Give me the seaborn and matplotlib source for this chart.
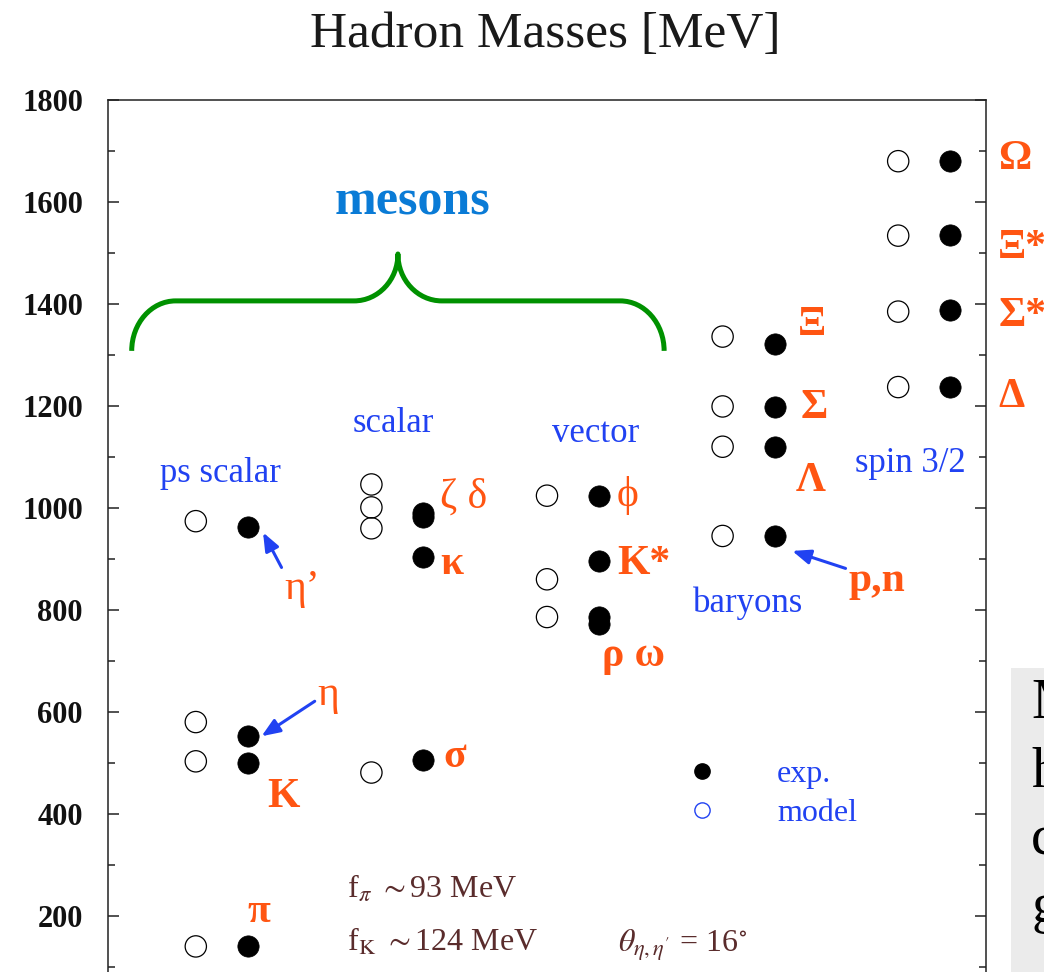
import numpy as np
import pandas as pd
import matplotlib
matplotlib.use("Agg")
import matplotlib.pyplot as plt
import matplotlib.transforms as mtransforms
from matplotlib.path import Path
from matplotlib.patches import PathPatch, Rectangle
from matplotlib.lines import Line2D
from matplotlib.ticker import MultipleLocator
import seaborn as sns

# ---------------------------------------------------------------- data
groups = ["ps scalar", "scalar", "vector", "baryons", "spin 3/2"]

# model masses [MeV] for each multiplet
model_ps = [974, 580, 503, 140]
model_scalar = [1046, 1001, 960, 481]
model_vector = [1024, 860, 786]
model_baryon = [945, 1120, 1199, 1336]
model_spin32 = [1237, 1385, 1534, 1680]

# experimental masses [MeV]
exp_names_ps = ["eta'", "eta", "K", "pi"]
exp_ps = [963, 553, 500, 140]
exp_names_scalar = ["zeta", "delta", "kappa", "sigma"]
exp_scalar = [990, 982, 903, 505]
exp_names_vector = ["phi", "K*", "rho", "omega"]
exp_vector = [1024, 895, 773, 787]
exp_names_baryon = ["p,n", "Lambda", "Sigma", "Xi"]
exp_baryon = [944, 1120, 1198, 1322]
exp_names_spin32 = ["Delta", "Sigma*", "Xi*", "Omega"]
exp_spin32 = [1237, 1389, 1536, 1680]

ytick_values = [200, 400, 600, 800, 1000, 1200, 1400, 1600, 1800]

model_sets = [model_ps, model_scalar, model_vector, model_baryon, model_spin32]
exp_sets = [exp_ps, exp_scalar, exp_vector, exp_baryon, exp_spin32]
exp_name_sets = [exp_names_ps, exp_names_scalar, exp_names_vector,
                 exp_names_baryon, exp_names_spin32]

EXP_SHIFT = 0.296  # horizontal offset of the experimental column in a group

rows = []
for g, (grp, mods, exps, names) in enumerate(zip(groups, model_sets, exp_sets, exp_name_sets)):
    for m in mods:
        rows.append(dict(group=grp, kind="model", name="", x=g, mass=m))
    for n, m in zip(names, exps):
        rows.append(dict(group=grp, kind="exp", name=n, x=g + EXP_SHIFT, mass=m))
df = pd.DataFrame(rows)

# ---------------------------------------------------------------- style
sns.set_theme(style="ticks")
plt.rcParams["font.family"] = ["Liberation Serif", "DejaVu Serif"]
plt.rcParams["mathtext.fontset"] = "stix"

ORANGE = "#ff5512"
BLUE = "#2142f2"
AZURE = "#0a7bd6"
GREEN = "#009100"
BROWN = "#5a2c2c"

W, H = 1044, 972
fig = plt.figure(figsize=(W / 100, H / 100), dpi=100)
ax = fig.add_axes([108 / W, 1 - 1017.8 / H, 878 / W, 917.8 / H])
ax.set_xlim(-0.5, 4.5)
ax.set_ylim(0, 1800)

# ---------------------------------------------------------------- points
sns.scatterplot(data=df[df.kind == "model"], x="x", y="mass", ax=ax,
                marker="o", s=235, facecolors="none", edgecolor="black",
                linewidth=0.9, legend=False, zorder=3)
sns.scatterplot(data=df[df.kind == "exp"], x="x", y="mass", ax=ax,
                marker="o", s=235, color="black", edgecolor="black",
                linewidth=0.5, legend=False, zorder=3)

# ---------------------------------------------------------------- axes
for side in ("left", "right", "top"):
    ax.spines[side].set_visible(True)
    ax.spines[side].set_linewidth(1.1)
    ax.spines[side].set_color("#222222")
ax.spines["bottom"].set_visible(False)
ax.set_xticks([])
ax.set_xlabel("")
ax.set_ylabel("")
ax.set_yticks(ytick_values)
ax.set_yticklabels([str(v) for v in ytick_values], fontsize=22,
                   fontweight="bold", color="#111111")
ax.yaxis.set_minor_locator(MultipleLocator(100))
ax.tick_params(axis="y", which="both", direction="in", left=True, right=True,
               labelleft=True, labelright=False, width=1.1, color="#222222")
ax.tick_params(axis="y", which="major", length=8, pad=18)
ax.tick_params(axis="y", which="minor", length=5)


def shifted(dx, dy):
    """Data coordinates shifted by (dx, dy) points."""
    return ax.transData + mtransforms.ScaledTranslation(dx / 72, dy / 72, fig.dpi_scale_trans)


def point(name):
    r = df[df.name == name].iloc[0]
    return r.x, r.mass


# ---------------------------------------------------------------- particle labels
labels = [
    ("eta'", "η’", (26.6, -52.1), "normal"),
    ("eta", "η", (50.4, 22.5), "normal"),
    ("K", "K", (13.7, -31.5), "bold"),
    ("pi", "π", (0.0, 17.6), "bold"),
    ("zeta", "ζ δ", (12.2, 4.2), "normal"),
    ("kappa", "κ", (12.2, -12.1), "bold"),
    ("sigma", "σ", (14.4, -4.5), "bold"),
    ("phi", "ϕ", (13.0, -7.5), "normal"),
    ("K*", "K*", (13.0, -9.2), "bold"),
    ("rho", "ρ ω", (2.2, -30.7), "bold"),
    ("p,n", "p,n", (53.3, -39.4), "bold"),
    ("Lambda", "Λ", (15.1, -31.9), "bold"),
    ("Sigma", "Σ", (18.7, -7.9), "bold"),
    ("Xi", "Ξ", (16.6, 6.5), "bold"),
    ("Omega", "Ω", (34.6, -5.3), "bold"),
    ("Xi*", "Ξ*", (34.6, -16.6), "bold"),
    ("Sigma*", "Σ*", (34.6, -11.7), "bold"),
    ("Delta", "Δ", (34.6, -14.3), "bold"),
]
for name, txt, (dx, dy), weight in labels:
    ax.annotate(txt, xy=point(name), xytext=(dx, dy), textcoords="offset points",
                ha="left", va="baseline", fontsize=30, fontweight=weight,
                color=ORANGE, annotation_clip=False, clip_on=False)

# arrows pointing at eta', eta and the nucleon
arrows = [
    ("eta'", (11.0, -4.1), (24.3, -29.3)),
    ("eta", (9.9, -0.3), (48.2, 24.9)),
    ("p,n", (12.7, -10.4), (51.1, -23.0)),
]
for name, head, tail in arrows:
    p = point(name)
    ax.annotate("", xy=p, xycoords=shifted(*head), xytext=p, textcoords=shifted(*tail),
                arrowprops=dict(arrowstyle="-|>,head_length=0.55,head_width=0.22",
                                color=BLUE, lw=2.2, shrinkA=0, shrinkB=0,
                                mutation_scale=20))

# ---------------------------------------------------------------- group labels
group_label_pos = [(0.142, 1050), (1.123, 1149), (2.279, 1129), (3.145, 795), (4.071, 1070)]
for grp, (gx, gy) in zip(groups, group_label_pos):
    ax.text(gx, gy, grp, ha="center", va="baseline", fontsize=25, color=BLUE)

ax.text(1.236, 1575, "mesons", ha="center", va="baseline", fontsize=36,
        fontweight="bold", color=AZURE)

# curly brace spanning the meson multiplets
xl, xr, xc = -0.365, 2.667, 1.151
y_end, y_h, y_p = 1308, 1406, 1498
r = 0.25
k = 0.552
verts = [
    (xl, y_end), (xl, y_end + k * (y_h - y_end)), (xl + r * (1 - k), y_h), (xl + r, y_h),
    (xc - r, y_h),
    (xc - r * (1 - k), y_h), (xc, y_p - k * (y_p - y_h)), (xc, y_p),
    (xc, y_p - k * (y_p - y_h)), (xc + r * (1 - k), y_h), (xc + r, y_h),
    (xr - r, y_h),
    (xr - r * (1 - k), y_h), (xr, y_end + k * (y_h - y_end)), (xr, y_end),
]
codes = [Path.MOVETO, Path.CURVE4, Path.CURVE4, Path.CURVE4,
         Path.LINETO,
         Path.CURVE4, Path.CURVE4, Path.CURVE4,
         Path.CURVE4, Path.CURVE4, Path.CURVE4,
         Path.LINETO,
         Path.CURVE4, Path.CURVE4, Path.CURVE4]
ax.add_patch(PathPatch(Path(verts, codes), facecolor="none", edgecolor=GREEN,
                       lw=3.6, capstyle="butt", joinstyle="round", zorder=2))

# ---------------------------------------------------------------- decay constants and mixing angle
ax.text(0.860, 237, r"f$_{\pi}$ $\sim$93 MeV", ha="left", va="baseline",
        fontsize=23, color=BROWN)
ax.text(0.860, 131, r"f$_{\rm K}$ $\sim$124 MeV", ha="left", va="baseline",
        fontsize=23, color=BROWN)
ax.text(2.405, 129, r"$\theta_{\eta,\eta'}$ = 16$^{\circ}$", ha="left", va="baseline",
        fontsize=23, color=BROWN)

# ---------------------------------------------------------------- legend
handles = [
    Line2D([], [], ls="none", marker="o", ms=11, mfc="black", mec="black"),
    Line2D([], [], ls="none", marker="o", ms=11, mfc="none", mec=BLUE, mew=1.0),
]
leg = ax.legend(handles, ["exp.", "model"], loc="upper left",
                bbox_to_anchor=(686 / W, 1 - 760 / H), bbox_transform=fig.transFigure,
                frameon=False, fontsize=23, handlelength=1.0, handletextpad=1.85,
                labelspacing=0.3, borderpad=0, borderaxespad=0, labelcolor=BLUE)

# ---------------------------------------------------------------- title
fig.text(545 / W, 1 - 47 / H, "Hadron Masses [MeV]", ha="center", va="baseline",
         fontsize=37, color="#1a1a1a")

# ---------------------------------------------------------------- side panel
fig.patches.append(Rectangle((1011 / W, 0), 40 / W, (972 - 668) / H,
                             transform=fig.transFigure, facecolor="#ebebeb",
                             edgecolor="none", zorder=0))
for letter, base in zip(["M", "h", "c", "g"], [718, 787, 854, 922]):
    fig.text(1031 / W, 1 - base / H, letter, ha="left", va="baseline",
             fontsize=41, color="black")

fig.savefig("out.png", dpi=100)
